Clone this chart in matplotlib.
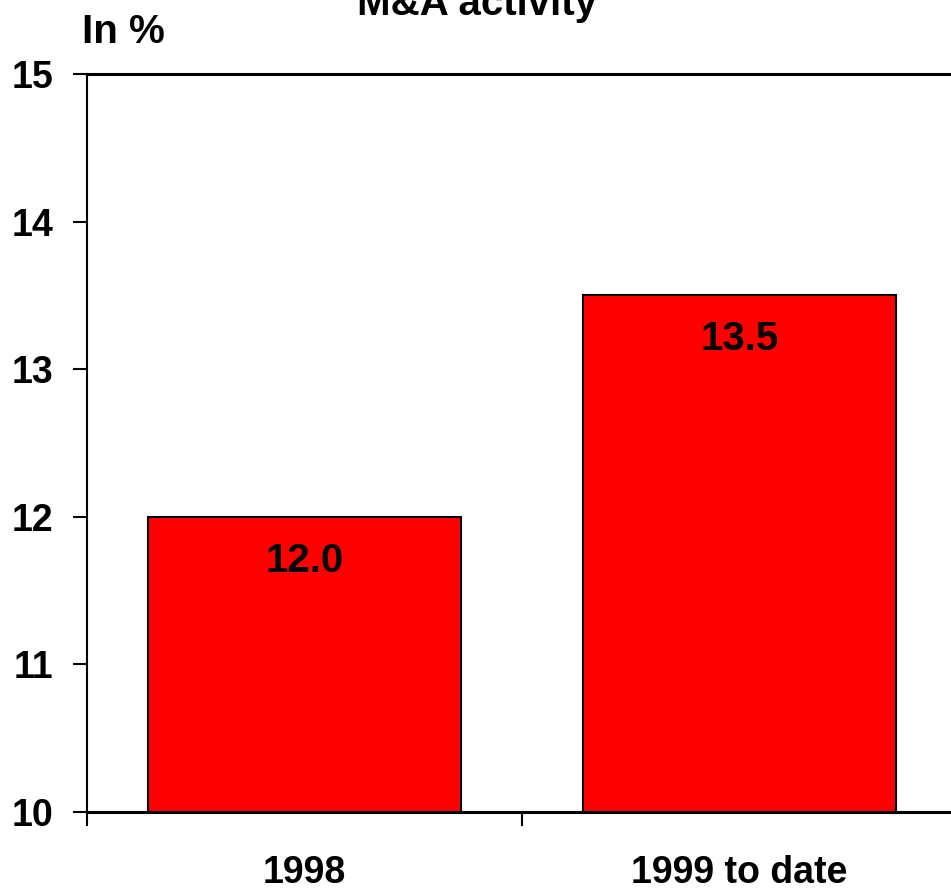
import matplotlib
matplotlib.use("Agg")
import matplotlib.pyplot as plt

plt.rcParams['font.family'] = ['Liberation Sans', 'DejaVu Sans']
plt.rcParams['font.weight'] = 'bold'

categories = ["1998", "1999 to date"]
values = [12.0, 13.5]
value_labels = ["12.0", "13.5"]
y_ticks = [10, 11, 12, 13, 14, 15]

fig = plt.figure(figsize=(9.51, 8.90), dpi=100)
ax = fig.add_axes([87 / 951, 1 - 812 / 890, 870 / 951, 738 / 890])

x = list(range(len(categories)))
ax.bar(x, [v - 10 for v in values], bottom=10, width=0.72,
       color="#ff0000", edgecolor="black", linewidth=1.5, zorder=2)

for xi, v, lab in zip(x, values, value_labels):
    ax.annotate(lab, (xi, v), xytext=(0, -44), textcoords="offset pixels",
                ha="center", va="center", fontsize=29, fontweight="bold",
                color="black", zorder=3)

ax.set_xlim(-0.5, len(categories) - 0.5)
ax.set_ylim(10, 15)
ax.set_yticks(y_ticks)
ax.set_yticklabels([str(t) for t in y_ticks], fontsize=27, fontweight="bold")
ax.tick_params(axis="y", direction="out", length=10, width=1.5, pad=14)

# category boundaries carry the tick marks, labels sit at the centres
ax.set_xticks([i - 0.5 for i in range(len(categories) + 1)])
ax.set_xticklabels([])
ax.tick_params(axis="x", which="major", direction="out", length=10, width=1.5)
ax.set_xticks(x, minor=True)
ax.set_xticklabels(categories, minor=True, fontsize=27, fontweight="bold")
ax.tick_params(axis="x", which="minor", length=0, pad=31)

ax.spines["left"].set_linewidth(1.5)
ax.spines["bottom"].set_linewidth(2.2)
ax.spines["top"].set_linewidth(2.2)
ax.spines["right"].set_visible(False)

fig.text(82 / 951, 1 - 43 / 890, "In %", fontsize=29, fontweight="bold",
         ha="left", va="baseline")
fig.text(477 / 951, 1 - 15 / 890, "M&A activity", fontsize=29,
         fontweight="bold", ha="center", va="baseline")

fig.savefig("out.png", dpi=100)
